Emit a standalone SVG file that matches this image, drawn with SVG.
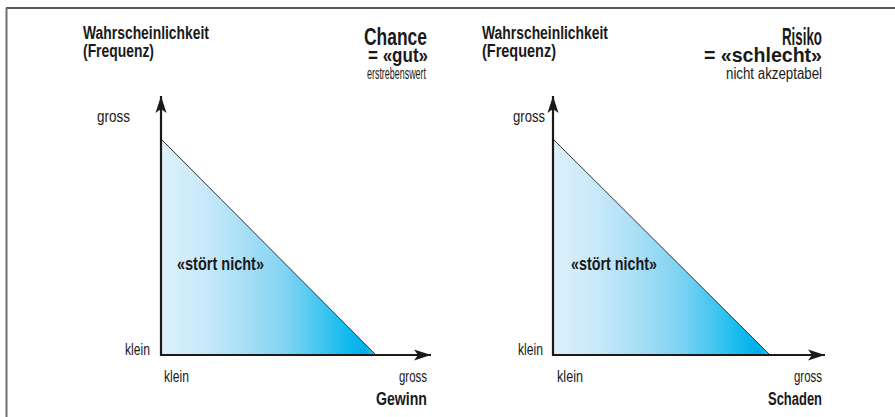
<svg xmlns="http://www.w3.org/2000/svg" width="895" height="417" viewBox="0 0 895 417">
<defs>
<linearGradient id="blue" x1="0" y1="0" x2="1" y2="0">
<stop offset="0" stop-color="#dcf1fb"/>
<stop offset="0.2" stop-color="#c8e9f9"/>
<stop offset="0.4" stop-color="#a6def6"/>
<stop offset="0.58" stop-color="#80d3f3"/>
<stop offset="0.74" stop-color="#44c6f1"/>
<stop offset="0.86" stop-color="#14bbee"/>
<stop offset="0.95" stop-color="#00aeea"/>
<stop offset="1" stop-color="#3cc2ef"/>
</linearGradient>
<marker id="arrow" markerUnits="userSpaceOnUse" markerWidth="20" markerHeight="12" viewBox="-18 -6 20 12" refX="0" refY="0" orient="auto">
<path d="M0,0 L-17,-5.5 L-13,0 L-17,5.5 Z" fill="#1a1a1a"/>
</marker>
<style>
.t{font-family:"Liberation Sans",Arial,sans-serif;fill:#1a1a1a}
.b{font-weight:bold}
.axis{stroke:#1a1a1a;stroke-width:2.2;fill:none}
.hyp{stroke:#333;stroke-width:1;fill:none}
</style>
</defs>
<rect x="0" y="0" width="895" height="417" fill="#ffffff"/>
<g id="frame">
<line x1="6" y1="8" x2="895" y2="8" stroke="#222" stroke-width="1.6"/>
<line x1="6.5" y1="8" x2="6.5" y2="417" stroke="#707070" stroke-width="2"/>
</g>
<g id="chart-chance">
<polygon points="161,139 376,355 161,355" fill="url(#blue)"/>
<line class="hyp" x1="161" y1="139" x2="376" y2="355"/>
</g>
<g id="chart-risiko">
<polygon points="553,139 770,355 553,355" fill="url(#blue)"/>
<line class="hyp" x1="553" y1="139" x2="770" y2="355"/>
</g>
<g id="connectors">
<line class="axis" x1="161" y1="356" x2="161" y2="96" marker-end="url(#arrow)"/>
<line class="axis" x1="160" y1="355" x2="431" y2="355" marker-end="url(#arrow)"/>
<line class="axis" x1="553" y1="356" x2="553" y2="96" marker-end="url(#arrow)"/>
<line class="axis" x1="552" y1="355" x2="825" y2="355" marker-end="url(#arrow)"/>
</g>
<g id="labels-chance">
<text class="t b" x="83" y="39" font-size="18" textLength="126" lengthAdjust="spacingAndGlyphs">Wahrscheinlichkeit</text>
<text class="t b" x="83" y="57" font-size="18" textLength="71" lengthAdjust="spacingAndGlyphs">(Frequenz)</text>
<text class="t b" x="364" y="45" font-size="24" textLength="63" lengthAdjust="spacingAndGlyphs">Chance</text>
<text class="t b" x="368" y="62" font-size="21" textLength="60" lengthAdjust="spacingAndGlyphs">= «gut»</text>
<text class="t" x="367" y="79" font-size="16" textLength="59" lengthAdjust="spacingAndGlyphs">erstrebenswert</text>
<text class="t" x="97" y="122" font-size="17" textLength="33" lengthAdjust="spacingAndGlyphs">gross</text>
<text class="t" x="125" y="355" font-size="17" textLength="25" lengthAdjust="spacingAndGlyphs">klein</text>
<text class="t" x="164" y="382" font-size="17" textLength="25" lengthAdjust="spacingAndGlyphs">klein</text>
<text class="t" x="399" y="382" font-size="17" textLength="28" lengthAdjust="spacingAndGlyphs">gross</text>
<text class="t b" x="376" y="405" font-size="18" textLength="51" lengthAdjust="spacingAndGlyphs">Gewinn</text>
<text class="t b" x="177" y="270" font-size="18" textLength="87" lengthAdjust="spacingAndGlyphs">«stört nicht»</text>
</g>
<g id="labels-risiko">
<text class="t b" x="482" y="39" font-size="18" textLength="126" lengthAdjust="spacingAndGlyphs">Wahrscheinlichkeit</text>
<text class="t b" x="482" y="57" font-size="18" textLength="74" lengthAdjust="spacingAndGlyphs">(Frequenz)</text>
<text class="t b" x="782" y="45" font-size="24" textLength="40" lengthAdjust="spacingAndGlyphs">Risiko</text>
<text class="t b" x="704" y="62" font-size="21" textLength="118" lengthAdjust="spacingAndGlyphs">= «schlecht»</text>
<text class="t" x="726" y="79" font-size="16" textLength="96" lengthAdjust="spacingAndGlyphs">nicht akzeptabel</text>
<text class="t" x="513" y="122" font-size="17" textLength="32" lengthAdjust="spacingAndGlyphs">gross</text>
<text class="t" x="518" y="355" font-size="17" textLength="25" lengthAdjust="spacingAndGlyphs">klein</text>
<text class="t" x="557" y="382" font-size="17" textLength="26" lengthAdjust="spacingAndGlyphs">klein</text>
<text class="t" x="794" y="382" font-size="17" textLength="28" lengthAdjust="spacingAndGlyphs">gross</text>
<text class="t b" x="768" y="405" font-size="18" textLength="54" lengthAdjust="spacingAndGlyphs">Schaden</text>
<text class="t b" x="571" y="270" font-size="18" textLength="86" lengthAdjust="spacingAndGlyphs">«stört nicht»</text>
</g>
</svg>
